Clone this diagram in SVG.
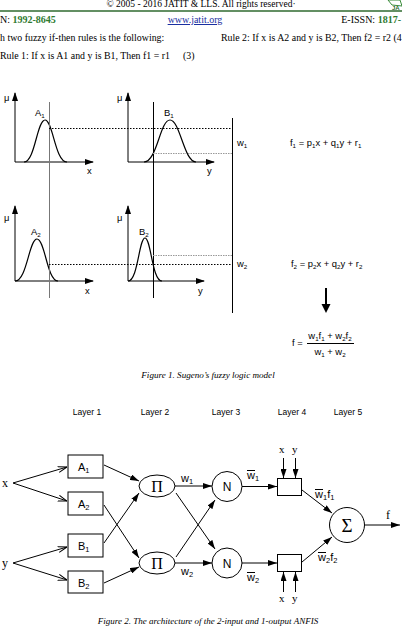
<svg xmlns="http://www.w3.org/2000/svg" width="402" height="627" viewBox="0 0 402 627">
<style>
.serif{font-family:"Liberation Serif","Times New Roman",serif;fill:#000}
.sans{font-family:"Liberation Sans",Arial,sans-serif;fill:#000}
.ln{stroke:#000;stroke-width:1;fill:none}
.ax{stroke:#000;stroke-width:1;fill:none;marker-end:url(#ah)}
.gr{stroke:#777;stroke-width:1;fill:none}
.dot{stroke:#000;stroke-width:1;stroke-dasharray:1.5 1.5;fill:none}
.gdot{stroke:#999;stroke-width:1;stroke-dasharray:1.5 1;fill:none}
.cv{stroke:#000;stroke-width:1.2;fill:none}
.box{fill:#fff;stroke:#000;stroke-width:1}
.ar{stroke:#000;stroke-width:1;fill:none;marker-end:url(#fa)}
.oa{stroke:#000;stroke-width:1;fill:none;marker-end:url(#oa)}
.f1{font-size:9.4px}
.sb{font-size:6.2px}
.f2{font-size:11px}
.sb2{font-size:7.5px}
</style>
<defs>
<marker id="ah" markerWidth="9" markerHeight="6" refX="8" refY="3" orient="auto" markerUnits="userSpaceOnUse"><path d="M0,0 L9,3 L0,6 Z" fill="#000"/></marker>
<marker id="fa" markerWidth="9" markerHeight="6" refX="9" refY="3" orient="auto" markerUnits="userSpaceOnUse"><path d="M0,0 L9,3 L0,6 Z" fill="#000"/></marker>
<marker id="oa" markerWidth="9" markerHeight="7" refX="9" refY="3.5" orient="auto" markerUnits="userSpaceOnUse"><path d="M0,0.5 L9,3.5 L0,6.5" fill="none" stroke="#000" stroke-width="1"/></marker>
</defs>
<rect width="402" height="627" fill="#fff"/>

<!-- header -->
<g id="header">
<text class="serif" x="201" y="7" font-size="9.5" text-anchor="middle">© 2005 - 2016 JATIT &amp; LLS. All rights reserved·</text>
<line x1="0" y1="11" x2="402" y2="11" stroke="#2f6a2f" stroke-width="1.5"/>
<path d="M388,0 L400,0 L402,6 L392,5 Z" fill="#fff" stroke="#3a8a3a" stroke-width="1"/>
<text class="sans" x="392" y="10" font-size="6" font-weight="bold" style="fill:#2f6a2f">JA</text>
<text class="serif" x="0" y="23" font-size="10">N: <tspan font-weight="bold" style="fill:#2f7a2f">1992-8645</tspan></text>
<text class="serif" x="195" y="23" font-size="10" text-anchor="middle" text-decoration="underline" style="fill:#1a2fa0">www.jatit.org</text>
<text class="serif" x="401" y="23" font-size="10" text-anchor="end">E-ISSN: <tspan font-weight="bold" style="fill:#2f7a2f">1817-</tspan></text>
<text class="serif" x="0" y="41" font-size="9.9">h two fuzzy if-then rules is the following:</text>
<text class="serif" x="221" y="41" font-size="9.9">Rule 2: If x is A2 and y is B2, Then f2 = r2 (4</text>
<text class="serif" x="0" y="59" font-size="9.9">Rule 1: If x is A1 and y is B1, Then f1 = r1</text>
<text class="serif" x="183" y="59" font-size="9.9">(3)</text>
</g>

<!-- Figure 1 -->
<g id="fig1">
<g id="plotA1">
<line class="ax" x1="15" y1="162" x2="15" y2="93"/>
<line class="ax" x1="15" y1="162" x2="93" y2="162"/>
<text class="sans f1" x="4" y="101">μ</text>
<path class="cv" d="M24,162 C35,162 37,120 45,120 C53,120 55,162 67,162"/>
<text class="sans f1" x="35" y="116">A<tspan class="sb" dy="1.5">1</tspan></text>
<text class="sans f1" x="87" y="174">x</text>
</g>
<g id="plotB1">
<line class="ax" x1="128" y1="162" x2="128" y2="93"/>
<line class="ax" x1="128" y1="162" x2="214" y2="162"/>
<text class="sans f1" x="117" y="101">μ</text>
<path class="cv" d="M144,162 C157,162 160,120 170,120 C180,120 184,162 196,162"/>
<text class="sans f1" x="164" y="116">B<tspan class="sb" dy="1.5">1</tspan></text>
<text class="sans f1" x="207" y="174">y</text>
</g>
<g id="plotA2">
<line class="ax" x1="15" y1="281" x2="15" y2="206"/>
<line class="ax" x1="15" y1="281" x2="93" y2="281"/>
<text class="sans f1" x="4" y="221">μ</text>
<path class="cv" d="M15,281 C27,281 29,239 37,239 C45,239 47,281 58,281"/>
<text class="sans f1" x="31" y="235">A<tspan class="sb" dy="1.5">2</tspan></text>
<text class="sans f1" x="85" y="294">x</text>
</g>
<g id="plotB2">
<line class="ax" x1="128" y1="281" x2="128" y2="206"/>
<line class="ax" x1="128" y1="281" x2="204" y2="281"/>
<text class="sans f1" x="117" y="221">μ</text>
<path class="cv" d="M128,281 C138,281 139,238 145,238 C151,238 152,281 162,281"/>
<text class="sans f1" x="139" y="235">B<tspan class="sb" dy="1.5">2</tspan></text>
<text class="sans f1" x="198" y="294">y</text>
</g>
<g id="guides">
<line class="gr" x1="49.5" y1="102" x2="49.5" y2="298"/>
<line class="ln" x1="153.5" y1="102" x2="153.5" y2="298"/>
<line class="ln" x1="232.5" y1="118" x2="232.5" y2="313"/>
<line class="dot" x1="49" y1="128.5" x2="232" y2="128.5"/>
<line class="gdot" x1="153" y1="153.5" x2="232" y2="153.5"/>
<line class="gdot" x1="153" y1="255.5" x2="232" y2="255.5"/>
<line class="dot" x1="49" y1="264.5" x2="232" y2="264.5"/>
</g>
<g id="rules">
<text class="sans f1" x="237" y="146">w<tspan class="sb" dy="1.5">1</tspan></text>
<text class="sans f1" x="237" y="267">w<tspan class="sb" dy="1.5">2</tspan></text>
<text class="sans f1" x="290" y="146">f<tspan class="sb" dy="1.5">1</tspan><tspan dy="-1.5"> = p</tspan><tspan class="sb" dy="1.5">1</tspan><tspan dy="-1.5">x + q</tspan><tspan class="sb" dy="1.5">1</tspan><tspan dy="-1.5">y + r</tspan><tspan class="sb" dy="1.5">1</tspan></text>
<text class="sans f1" x="291" y="267">f<tspan class="sb" dy="1.5">2</tspan><tspan dy="-1.5"> = p</tspan><tspan class="sb" dy="1.5">2</tspan><tspan dy="-1.5">x + q</tspan><tspan class="sb" dy="1.5">2</tspan><tspan dy="-1.5">y + r</tspan><tspan class="sb" dy="1.5">2</tspan></text>
<line x1="326" y1="288" x2="326" y2="305" stroke="#000" stroke-width="2"/>
<path d="M321.5,304 L330.5,304 L326,313 Z" fill="#000"/>
<text class="sans f1" x="292" y="346">f =</text>
<text class="sans f1" x="330" y="339" text-anchor="middle">w<tspan class="sb" dy="1.5">1</tspan><tspan dy="-1.5">f</tspan><tspan class="sb" dy="1.5">1</tspan><tspan dy="-1.5"> + w</tspan><tspan class="sb" dy="1.5">2</tspan><tspan dy="-1.5">f</tspan><tspan class="sb" dy="1.5">2</tspan></text>
<line class="ln" x1="307" y1="343.5" x2="354" y2="343.5" stroke-width="0.8"/>
<text class="sans f1" x="330" y="355" text-anchor="middle">w<tspan class="sb" dy="1.5">1</tspan><tspan dy="-1.5"> + w</tspan><tspan class="sb" dy="1.5">2</tspan></text>
</g>
<text class="serif" x="208" y="378" font-size="9.1" font-style="italic" text-anchor="middle">Figure 1. Sugeno’s fuzzy logic model</text>
</g>

<!-- Figure 2 -->
<g id="layers">
<text class="sans" x="87" y="415" font-size="8.5" text-anchor="middle">Layer 1</text>
<text class="sans" x="155" y="415" font-size="8.5" text-anchor="middle">Layer 2</text>
<text class="sans" x="226" y="415" font-size="8.5" text-anchor="middle">Layer 3</text>
<text class="sans" x="292" y="415" font-size="8.5" text-anchor="middle">Layer 4</text>
<text class="sans" x="348" y="415" font-size="8.5" text-anchor="middle">Layer 5</text>
</g>

<g id="connectors">
<line class="oa" x1="13" y1="483" x2="67" y2="467"/>
<line class="oa" x1="13" y1="483" x2="67" y2="501"/>
<line class="oa" x1="13" y1="563" x2="67" y2="547"/>
<line class="oa" x1="13" y1="563" x2="67" y2="580"/>
<line class="ar" x1="104" y1="465" x2="139" y2="481"/>
<line class="ar" x1="104" y1="505" x2="139" y2="558"/>
<line class="ar" x1="104" y1="543" x2="139" y2="493"/>
<line class="ar" x1="104" y1="583" x2="139" y2="567"/>
<line class="ar" x1="175" y1="486" x2="212" y2="486"/>
<line class="ar" x1="175" y1="563" x2="212" y2="563"/>
<line class="ar" x1="176" y1="493" x2="215" y2="549"/>
<line class="ar" x1="176" y1="557" x2="215" y2="500"/>
<line class="ar" x1="242" y1="486.5" x2="277" y2="486.5"/>
<line class="ar" x1="242" y1="563" x2="277" y2="563"/>
<line class="ar" x1="283.5" y1="458" x2="283.5" y2="478"/>
<line class="ar" x1="295.5" y1="458" x2="295.5" y2="478"/>
<line class="ar" x1="283.5" y1="592" x2="283.5" y2="572"/>
<line class="ar" x1="295.5" y1="592" x2="295.5" y2="572"/>
<line class="ar" x1="302" y1="490" x2="332" y2="513"/>
<line class="ar" x1="302" y1="562" x2="332" y2="537"/>
<line class="ar" x1="365" y1="525" x2="400" y2="525"/>
</g>

<g id="inX"><text class="serif" x="2" y="487" font-size="12">x</text></g>
<g id="inY"><text class="serif" x="2" y="567" font-size="12">y</text></g>
<g id="nodeA1"><rect class="box" x="68" y="455" width="35" height="23"/><text class="sans f2" x="78" y="471">A<tspan class="sb2" dy="2">1</tspan></text></g>
<g id="nodeA2"><rect class="box" x="68" y="492" width="35" height="23"/><text class="sans f2" x="78" y="508">A<tspan class="sb2" dy="2">2</tspan></text></g>
<g id="nodeB1"><rect class="box" x="68" y="534" width="35" height="23"/><text class="sans f2" x="78" y="550">B<tspan class="sb2" dy="2">1</tspan></text></g>
<g id="nodeB2"><rect class="box" x="68" y="571" width="35" height="22"/><text class="sans f2" x="78" y="587">B<tspan class="sb2" dy="2">2</tspan></text></g>
<g id="nodePi1"><ellipse class="box" cx="157" cy="486" rx="18" ry="11"/><text class="serif" x="157" y="491.5" font-size="16" text-anchor="middle">Π</text></g>
<g id="nodePi2"><ellipse class="box" cx="157" cy="563" rx="18" ry="11"/><text class="serif" x="157" y="568.5" font-size="16" text-anchor="middle">Π</text></g>
<g id="labW"><text class="sans f2" x="181" y="482">w<tspan class="sb2" dy="2">1</tspan></text>
<text class="sans f2" x="181" y="575">w<tspan class="sb2" dy="2">2</tspan></text></g>
<g id="nodeN1"><circle class="box" cx="227" cy="486.5" r="15"/><text class="sans" x="227" y="491" font-size="12" text-anchor="middle">N</text></g>
<g id="nodeN2"><circle class="box" cx="227" cy="563" r="15"/><text class="sans" x="227" y="567.5" font-size="12" text-anchor="middle">N</text></g>
<g id="labWbar">
<text class="sans f2" x="247" y="479">w<tspan class="sb2" dy="2">1</tspan></text><line class="ln" x1="247" y1="470.5" x2="255" y2="470.5"/>
<text class="sans f2" x="247" y="581">w<tspan class="sb2" dy="2">2</tspan></text><line class="ln" x1="247" y1="572.5" x2="255" y2="572.5"/>
</g>
<g id="nodeR1"><rect class="box" x="277.5" y="478.5" width="24" height="17"/>
<text class="serif" x="279" y="453" font-size="11">x</text><text class="serif" x="292" y="453" font-size="11">y</text></g>
<g id="nodeR2"><rect class="box" x="277.5" y="554.5" width="24" height="17"/>
<text class="serif" x="279" y="602" font-size="11">x</text><text class="serif" x="292" y="602" font-size="11">y</text></g>
<g id="labWf">
<text class="sans f2" x="315" y="498">w<tspan class="sb2" dy="2">1</tspan><tspan dy="-2">f</tspan><tspan class="sb2" dy="2">1</tspan></text><line class="ln" x1="315" y1="489.5" x2="323" y2="489.5"/>
<text class="sans f2" x="318" y="561">w<tspan class="sb2" dy="2">2</tspan><tspan dy="-2">f</tspan><tspan class="sb2" dy="2">2</tspan></text><line class="ln" x1="318" y1="552.5" x2="326" y2="552.5"/>
</g>
<g id="nodeSigma"><circle class="box" cx="347" cy="525" r="17.5"/><text class="serif" x="347" y="532" font-size="19" text-anchor="middle">Σ</text></g>
<g id="outF"><text class="serif" x="386" y="519" font-size="12">f</text></g>
<text class="serif" x="208" y="624" font-size="9" font-style="italic" text-anchor="middle">Figure 2. The architecture of the 2-input and 1-output ANFIS</text>
</svg>
